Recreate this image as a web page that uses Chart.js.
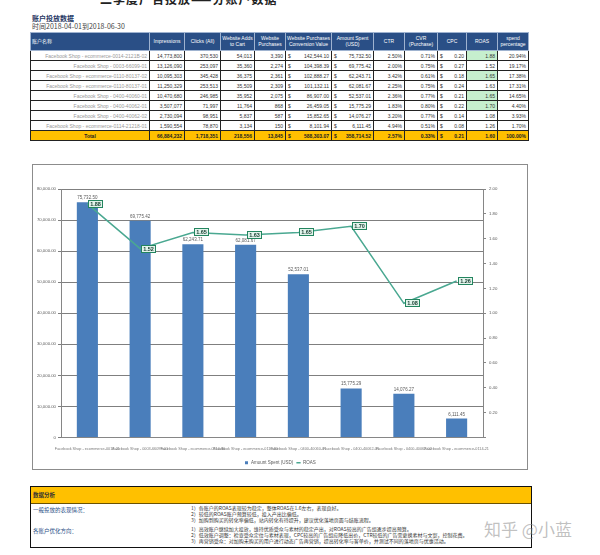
<!DOCTYPE html>
<html>
<head>
<meta charset="utf-8">
<script src="https://cdn.jsdelivr.net/npm/chart.js@4.4.1/dist/chart.umd.min.js"></script>
<style>
  body { margin: 0; width: 600px; height: 555px; background: #fff; position: relative; overflow: hidden;
         font-family: "Liberation Sans", Arial, "Noto Sans CJK SC", sans-serif; }
  .cut-title { position: absolute; left: 100px; top: -10px; font: bold 12px "Noto Sans CJK SC", sans-serif; color: #222; letter-spacing: 1px; }
  .head1 { position: absolute; left: 32px; top: 13px; font: bold 7px "Noto Sans CJK SC", sans-serif; color: #1f3864; }
  .head2 { position: absolute; left: 32px; top: 21px; font: 7px "Noto Sans CJK SC", sans-serif; color: #444; }
  table { position: absolute; left: 30px; top: 32px; border-collapse: collapse; table-layout: fixed; width: 498px;
          border: 1.5px solid #111; font-size: 5px; }
  th { background: #2a4f86; color: #fff; font-weight: normal; height: 17px; border: 1px solid #9fb3d0; padding: 0 1px; line-height: 5.5px; }
  th.name { text-align: left; }
  td { border: 1px solid #222; height: 9px; padding: 0 2px; text-align: right; color: #333; white-space: nowrap; overflow: hidden; }
  td.name { text-align: right; color: #999; }
  td.good { background: #c6efce; }
  td .cur { float: left; }
  tr.total td { background: #ffc000; font-weight: bold; color: #222; }
  tr.total td.name { text-align: center; color: #222; }
  .chartbox { position: absolute; left: 32px; top: 164px; width: 494px; height: 304px; border: 1px solid #8c8c8c; }
  .notes { position: absolute; left: 30px; top: 486px; width: 500px; height: 60px; border: 1.5px solid #111; }
  .notes .bar { background: #ffc000; height: 16px; border-bottom: 1.5px solid #6b5200; font: bold 5.5px "Noto Sans CJK SC", sans-serif; color: #333; padding-left: 2px; line-height: 16px; }
  .notes .lab { position: absolute; left: 2px; font: 5.5px "Noto Sans CJK SC", sans-serif; color: #2a4f86; }
  .notes .txt { position: absolute; left: 160px; font: 5px "Noto Sans CJK SC", sans-serif; color: #333; line-height: 6px; white-space: nowrap; }
  .mark { position: absolute; left: 484px; top: 516px; font: 17px "Noto Sans CJK SC", sans-serif; color: rgba(140,140,140,0.55); }
</style>
</head>
<body>
<div class="cut-title">二季度广告投放——分账户数据</div>
<div class="head1">账户投放数据</div>
<div class="head2">时间2018-04-01到2018-06-30</div>
<table id="tbl"></table>

<div class="chartbox"><canvas id="combo" width="494" height="304"></canvas></div>

<div class="notes">
  <div class="bar">数据分析</div>
  <div class="lab" style="top:19px">一般投放的表现情况：</div>
  <div class="txt" style="top:18px">1）各账户的ROAS表现较为稳定，整体ROAS在1.6左右，表现良好。<br>2）较低的ROAS账户预算较低，投入产出比偏低。<br>3）加购到购买的转化率偏低，站内转化有待提升，建议优化落地页面与结账流程。</div>
  <div class="lab" style="top:40px">各账户优化方向：</div>
  <div class="txt" style="top:39px">1）高效账户继续加大投放，维持优质受众与素材的稳定产出，对ROAS较高的广告组逐步提高预算。<br>2）低效账户调整：检查受众定位与素材表现，CPC较高的广告组应降低出价，CTR较低的广告需更换素材与文案，控制花费。<br>3）再营销受众：对加购未购买的用户进行动态广告再营销，提高转化率与客单价，并测试不同的落地页与优惠活动。</div>
</div>
<div class="mark">知乎 @小蓝</div>

<script>
// ---- data ----
const accounts = [
  'Facebook Shop - ecommerce-0014-2121B-02',
  'Facebook Shop - 0003-66099-01',
  'Facebook Shop - ecommerce-0110-80137-02',
  'Facebook Shop - ecommerce-0110-80137-01',
  'Facebook Shop - 0400-40060-01',
  'Facebook Shop - 0400-40062-01',
  'Facebook Shop - 0400-40062-02',
  'Facebook Shop - ecommerce-0114-21218-01'
];
const axisNames = [
  'Facebook Shop - ecommerce-0014-21',
  'Facebook Shop - 0003-66099-01',
  'Facebook Shop - ecommerce-0110-80',
  'Facebook Shop - ecommerce-0110-80',
  'Facebook Shop - 0400-40060-01',
  'Facebook Shop - 0400-40062-01',
  'Facebook Shop - 0400-40062-02',
  'Facebook Shop - ecommerce-0114-21'
];
const impressions = ['14,773,800', '13,126,090', '10,095,303', '11,250,329', '10,470,680', '3,507,077', '2,730,094', '1,590,554'];
const clicks      = ['370,530', '253,097', '345,428', '253,513', '246,985', '71,997', '98,951', '78,870'];
const addToCart   = ['54,013', '35,360', '36,375', '35,509', '35,952', '11,764', '5,837', '3,134'];
const purchases   = ['3,390', '2,274', '2,361', '2,309', '2,075', '868', '587', '150'];
const convValue   = ['142,544.10', '104,398.39', '102,888.27', '101,132.11', '86,907.00', '26,459.05', '15,852.65', '8,101.94'];
const spend       = [75732.50, 69775.42, 62243.71, 62081.67, 52537.01, 15775.29, 14076.27, 6111.45];
const ctr         = ['2.50%', '2.00%', '3.42%', '2.25%', '2.36%', '1.83%', '3.20%', '4.94%'];
const cvr         = ['0.71%', '0.75%', '0.61%', '0.75%', '0.77%', '0.80%', '0.77%', '0.51%'];
const cpc         = ['0.20', '0.27', '0.18', '0.24', '0.21', '0.22', '0.14', '0.08'];
const roas        = [1.88, 1.52, 1.65, 1.63, 1.65, 1.70, 1.08, 1.26];
const spendPct    = ['20.94%', '19.17%', '17.38%', '17.31%', '14.65%', '4.40%', '3.93%', '1.70%'];
const totals      = ['Total', '66,884,232', '1,718,351', '218,556', '13,845', '588,303.07', '358,714.52', '2.57%', '0.33%', '0.21', '1.60', '100.00%'];
const headers     = ['账户名称', 'Impressions', 'Clicks (All)', 'Website Adds to Cart', 'Website Purchases',
                     'Website Purchases Conversion Value', 'Amount Spent (USD)', 'CTR', 'CVR (Purchase)', 'CPC', 'ROAS', 'spend percentage'];
const colWidths   = [119, 35, 36, 34, 31, 46, 42, 31, 33, 29, 31, 31];

const money = v => v.toLocaleString('en-US', { minimumFractionDigits: 2, maximumFractionDigits: 2 });

// ---- table ----
const tbl = document.getElementById('tbl');
let html = '<colgroup>' + colWidths.map(w => `<col style="width:${w}px">`).join('') + '</colgroup>';
html += '<tr>' + headers.map((h, i) => `<th class="${i === 0 ? 'name' : ''}">${h}</th>`).join('') + '</tr>';
accounts.forEach((name, i) => {
  html += '<tr>' +
    `<td class="name">${name}</td>` +
    `<td>${impressions[i]}</td><td>${clicks[i]}</td><td>${addToCart[i]}</td><td>${purchases[i]}</td>` +
    `<td><span class="cur">$</span>${convValue[i]}</td>` +
    `<td><span class="cur">$</span>${money(spend[i])}</td>` +
    `<td>${ctr[i]}</td><td>${cvr[i]}</td>` +
    `<td><span class="cur">$</span>${cpc[i]}</td>` +
    `<td class="${roas[i] >= 1.65 ? 'good' : ''}">${roas[i].toFixed(2)}</td>` +
    `<td>${spendPct[i]}</td></tr>`;
});
html += '<tr class="total">' + totals.map((t, i) => {
  if (i === 0) return `<td class="name">${t}</td>`;
  if (i === 5 || i === 6 || i === 9) return `<td><span class="cur">$</span>${t}</td>`;
  return `<td>${t}</td>`;
}).join('') + '</tr>';
tbl.innerHTML = html;

// ---- chart ----
// labels above the bars and boxed ROAS labels right of each line point
const valueLabels = {
  id: 'valueLabels',
  afterDatasetsDraw(chart) {
    const ctx = chart.ctx;
    ctx.save();
    ctx.font = '4.5px "Liberation Sans"';
    ctx.fillStyle = '#595959';
    ctx.textAlign = 'center';
    ctx.textBaseline = 'bottom';
    chart.getDatasetMeta(0).data.forEach((bar, i) => {
      ctx.fillText(money(spend[i]), bar.x, bar.y - 2);
    });
    chart.getDatasetMeta(1).data.forEach((pt, i) => {
      const w = 15, h = 8;
      const x = Math.round(pt.x + 1), y = Math.round(pt.y - h / 2);
      ctx.fillStyle = '#e3f4ec';
      ctx.fillRect(x, y, w, h);
      ctx.strokeStyle = '#23855f';
      ctx.lineWidth = 1;
      ctx.strokeRect(x + 0.5, y + 0.5, w - 1, h - 1);
      ctx.fillStyle = '#173d30';
      ctx.font = 'bold 5.5px "Liberation Sans"';
      ctx.textBaseline = 'middle';
      ctx.fillText(roas[i].toFixed(2), x + w / 2, y + h / 2 + 0.5);
    });
    ctx.restore();
  }
};

new Chart(document.getElementById('combo'), {
  type: 'bar',
  data: {
    labels: axisNames,
    datasets: [
      {
        label: 'Amount Spent (USD)',
        data: spend,
        backgroundColor: '#4a7ebb',
        barPercentage: 0.8,
        categoryPercentage: 0.5,
        yAxisID: 'y',
        order: 2,
        pointStyle: 'rect'
      },
      {
        type: 'line',
        label: 'ROAS',
        data: roas,
        borderColor: '#4aa891',
        borderWidth: 1.5,
        pointRadius: 0,
        tension: 0,
        yAxisID: 'y1',
        order: 1,
        pointStyle: 'line'
      }
    ]
  },
  options: {
    responsive: false,
    animation: false,
    layout: { padding: { top: 24, bottom: -6, left: 0, right: 0 } },
    plugins: {
      tooltip: { enabled: false },
      legend: {
        display: true,
        position: 'bottom',
        labels: {
          usePointStyle: true,
          sort: (a, b) => a.datasetIndex - b.datasetIndex,
          font: { size: 4.5, family: 'Liberation Sans' },
          color: '#595959',
          boxWidth: 5,
          boxHeight: 3,
          padding: 3
        }
      }
    },
    scales: {
      x: {
        grid: { display: false },
        border: { color: '#868686' },
        ticks: { font: { size: 3.8, family: 'Liberation Sans' }, color: '#7a7a7a', maxRotation: 0, autoSkip: false, padding: 1 },
        afterFit(s) { s.height = 20; }
      },
      y: {
        position: 'left',
        min: 0,
        max: 80000,
        ticks: {
          stepSize: 10000,
          font: { size: 4.3, family: 'Liberation Sans' },
          color: '#595959',
          padding: 2,
          callback: v => v === 0 ? '0' : money(v)
        },
        grid: { color: '#7f7f7f', tickLength: 3 },
        border: { color: '#868686' },
        afterFit(s) { s.width = 28; }
      },
      y1: {
        position: 'right',
        min: 0,
        max: 2,
        ticks: {
          stepSize: 0.2,
          font: { size: 4.3, family: 'Liberation Sans' },
          color: '#595959',
          padding: 3,
          callback: v => v === 0 ? '' : v.toFixed(2)
        },
        grid: { drawOnChartArea: false, tickLength: 3, color: '#868686' },
        border: { color: '#868686' },
        afterFit(s) { s.width = 44; }
      }
    }
  },
  plugins: [valueLabels]
});
</script>
</body>
</html>
